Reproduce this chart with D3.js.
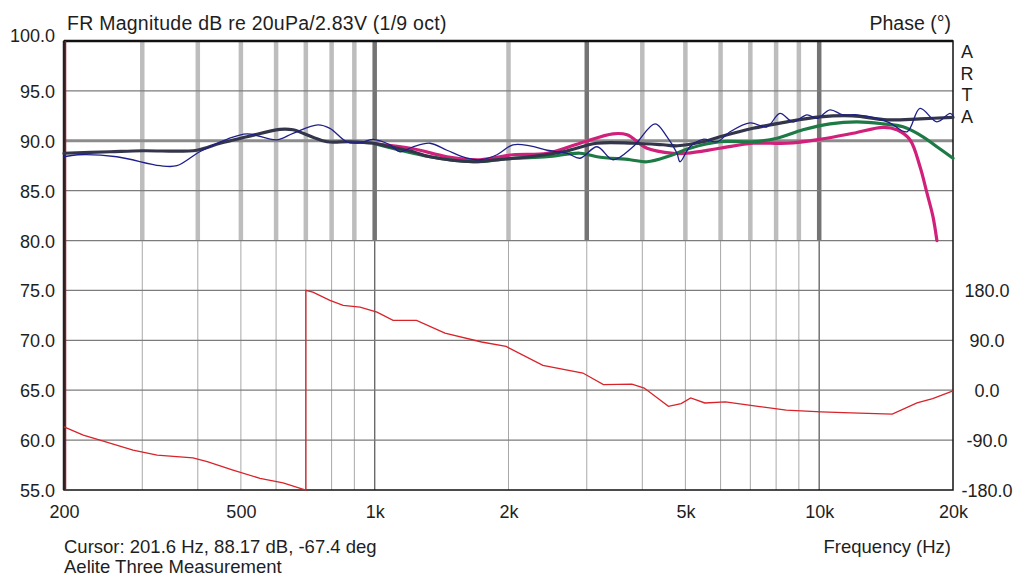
<!DOCTYPE html>
<html>
<head>
<meta charset="utf-8">
<script src="https://cdn.jsdelivr.net/npm/d3@7"></script>
<style>
  html, body { margin: 0; padding: 0; background: #fff; }
  #chart { width: 1014px; height: 578px; }
  text { font-family: "Liberation Sans", Arial, sans-serif; fill: #1e1e1e; }
</style>
</head>
<body>
<div id="chart"></div>
<script>
// ---- data ----
const dbTicks = [55, 60, 65, 70, 75, 80, 85, 90, 95, 100];
const phaseTicks = [-180, -90, 0, 90, 180];
const freqTicks = [200, 500, 1000, 2000, 5000, 10000, 20000];
const freqTickLabels = ["200", "500", "1k", "2k", "5k", "10k", "20k"];
const minorGrid = [300, 400, 500, 600, 700, 800, 900, 2000, 3000, 4000, 5000, 6000, 7000, 8000, 9000];
const majorGrid = [1000, 10000];
const darkBands = [1000, 3000, 10000];

// thick dark grey response
const darkFreq = [200, 254, 301, 398, 449, 516, 612, 655, 726, 781, 879, 991, 1082, 1220, 1332, 1664, 1884, 2235, 2653, 3164, 3812, 4454, 4800, 5478, 5982, 7096, 8461, 10042, 11914, 14212, 16860, 20000];
const darkDb = [88.75, 88.9, 89.0, 89.05, 89.75, 90.4, 91.15, 91.1, 90.35, 89.9, 89.9, 89.75, 89.4, 88.9, 88.4, 87.9, 88.1, 88.4, 88.9, 89.75, 89.75, 89.6, 89.5, 89.9, 90.4, 91.25, 91.9, 92.4, 92.5, 92.1, 92.2, 92.35];

// thin navy response
const blueFreq = [200, 215, 263, 329, 359, 404, 465, 516, 603, 655, 745, 793, 866, 926, 991, 1082, 1140, 1220, 1332, 1454, 1613, 1726, 1884, 2047, 2235, 2443, 2708, 2897, 3164, 3436, 3812, 4273, 4547, 4787, 4862, 5120, 5478, 5888, 6300, 6988, 7631, 8161, 8730, 9386, 9886, 10575, 11314, 12162, 13490, 14420, 15760, 16860, 18400, 19700, 20000];
const blueDb = [88.4, 88.6, 88.4, 87.5, 87.5, 88.9, 90.15, 90.7, 90.1, 90.75, 91.6, 91.25, 89.9, 89.8, 90.15, 89.6, 88.9, 89.4, 89.75, 89.05, 88.25, 88.1, 88.6, 89.6, 89.5, 89.05, 88.75, 88.25, 89.4, 88.1, 89.4, 91.7, 90.4, 88.75, 87.9, 89.4, 90.15, 89.9, 90.9, 91.8, 91.4, 92.75, 91.9, 92.6, 92.25, 93.1, 92.6, 92.6, 92.25, 91.8, 90.9, 93.25, 91.9, 92.75, 92.5];

// magenta response
const magentaFreq = [1000, 1220, 1454, 1726, 2047, 2443, 2897, 3436, 3696, 4100, 4689, 5041, 5982, 7096, 8461, 10042, 11914, 13920, 14960, 16000, 16860, 17480, 18030, 18400];
const magentaDb = [89.7, 89.2, 88.4, 88.1, 88.6, 88.75, 89.75, 90.7, 90.6, 89.25, 88.75, 88.75, 89.25, 89.75, 89.75, 90.15, 90.75, 91.35, 91.1, 90.1, 87.4, 84.75, 82.4, 80.0];

// green response
const greenFreq = [1000, 1332, 1664, 2047, 2443, 2897, 3164, 3754, 4100, 4617, 5120, 5982, 7096, 8036, 9194, 10575, 12162, 13920, 15440, 17120, 18400, 20000];
const greenDb = [89.7, 88.4, 87.9, 88.25, 88.4, 88.75, 88.4, 88.1, 87.9, 88.5, 89.25, 89.9, 89.9, 90.25, 91.1, 91.7, 91.9, 91.7, 91.4, 90.4, 89.4, 88.25];

// phase (deg), wraps at ~700 Hz
const phaseFreq = [200, 221, 241, 286, 324, 390, 420, 480, 552, 622, 700, 700, 726, 793, 849, 927, 1012, 1100, 1242, 1439, 1740, 1975, 2390, 2940, 3270, 3790, 4040, 4580, 4890, 5140, 5530, 6150, 7280, 8430, 10100, 11800, 14600, 16600, 18000, 20000];
const phaseDeg = [-66, -81, -90, -108, -117, -122, -129, -144, -159, -167, -180, 180, 177, 162, 153, 150, 141, 126, 126, 103, 87, 79, 45, 31, 10, 11, 4, -29, -24, -14, -23, -21, -29, -36, -39, -41, -43, -23, -15, -1];

const cursorFreq = 201.6;

class FrChart {
  constructor(config) {
    this.config = config;
    this.box = { left: 64, right: 953, top: 41, bottom: 490 };
    this.initVis();
  }

  initVis() {
    let vis = this;
    const b = vis.box;

    vis.svg = d3.select(`#${vis.config.parentElement}`)
      .append("svg")
      .attr("width", 1014)
      .attr("height", 578);

    vis.xScale = d3.scaleLog().domain([200, 20000]).range([b.left, b.right]);
    vis.yScale = d3.scaleLinear().domain([55, 100]).range([b.bottom, b.top]);
    // phase sits on the 55..75 dB band
    vis.pScale = d3.scaleLinear().domain([-180, 180]).range([vis.yScale(55), vis.yScale(75)]);

    vis.renderVis();
  }

  renderVis() {
    let vis = this;
    const b = vis.box;
    const x = vis.xScale, y = vis.yScale;
    const fmt = d => d.toFixed(1); // plain hyphen minus like the original

    // thin vertical grid (lower band)
    vis.svg.append("g")
      .selectAll("line")
      .data(minorGrid.concat(majorGrid))
      .join("line")
      .attr("x1", d => x(d)).attr("x2", d => x(d))
      .attr("y1", y(80)).attr("y2", b.bottom)
      .attr("stroke", d => majorGrid.includes(d) ? "#6a6a6a" : "#a8a8a8")
      .attr("stroke-width", d => majorGrid.includes(d) ? 1.4 : 1);

    // thick bands in the 80..100 dB band
    vis.svg.append("g")
      .selectAll("line")
      .data(minorGrid.concat(majorGrid))
      .join("line")
      .attr("x1", d => x(d)).attr("x2", d => x(d))
      .attr("y1", b.top).attr("y2", y(80))
      .attr("stroke", d => darkBands.includes(d) ? "#747474" : "#bdbdbd")
      .attr("stroke-width", 4.5);

    // horizontal grid
    vis.svg.append("g")
      .selectAll("line")
      .data(dbTicks.filter(d => d > 55 && d < 100))
      .join("line")
      .attr("x1", b.left).attr("x2", b.right)
      .attr("y1", d => y(d)).attr("y2", d => y(d))
      .attr("stroke", d => d === 90 ? "#8c8c8c" : "#7c7c7c")
      .attr("stroke-width", d => d === 90 ? 3 : 1.2);

    // frame
    vis.svg.append("rect")
      .attr("x", b.left).attr("y", b.top)
      .attr("width", b.right - b.left).attr("height", b.bottom - b.top)
      .attr("fill", "none")
      .attr("stroke", "#111")
      .attr("stroke-width", 1.5);
    vis.svg.append("line")
      .attr("x1", b.left).attr("x2", b.right)
      .attr("y1", b.top).attr("y2", b.top)
      .attr("stroke", "#111").attr("stroke-width", 2.5);
    vis.svg.append("line")
      .attr("x1", b.left).attr("x2", b.left)
      .attr("y1", b.top).attr("y2", b.bottom)
      .attr("stroke", "#222").attr("stroke-width", 2.5);

    // cursor
    vis.svg.append("line")
      .attr("x1", x(cursorFreq)).attr("x2", x(cursorFreq))
      .attr("y1", b.top).attr("y2", b.bottom)
      .attr("stroke", "#9a1020").attr("stroke-width", 1.4);

    // curves
    const line = (fs, vs, yS, curve) => d3.line()
      .x((d, i) => x(fs[i]))
      .y(d => yS(d))
      .curve(curve)(vs);

    const curves = [
      { f: magentaFreq, v: magentaDb, color: "#d0207a", w: 3.2 },
      { f: greenFreq, v: greenDb, color: "#1d7a45", w: 3.2 },
      { f: darkFreq, v: darkDb, color: "#33354a", w: 3.2 },
      { f: blueFreq, v: blueDb, color: "#1f1f8a", w: 1.3 },
    ];

    vis.svg.append("g")
      .selectAll("path")
      .data(curves)
      .join("path")
      .attr("d", c => line(c.f, c.v, y, d3.curveCatmullRom.alpha(0.5)))
      .attr("fill", "none")
      .attr("stroke", c => c.color)
      .attr("stroke-width", c => c.w)
      .attr("stroke-linejoin", "round")
      .attr("stroke-linecap", "round");

    vis.svg.append("path")
      .attr("d", line(phaseFreq, phaseDeg, vis.pScale, d3.curveLinear))
      .attr("fill", "none")
      .attr("stroke", "#d8232a")
      .attr("stroke-width", 1.3);

    // axes
    const yAxisG = vis.svg.append("g")
      .attr("transform", `translate(${b.left},0)`)
      .call(d3.axisLeft(y).tickValues(dbTicks).tickFormat(fmt).tickSize(0).tickPadding(9));
    yAxisG.select(".domain").remove();
    yAxisG.selectAll("text")
      .attr("dy", d => d === 100 ? "0.05em" : "0.36em");

    const pAxisG = vis.svg.append("g")
      .attr("transform", `translate(${b.right},0)`)
      .call(d3.axisRight(vis.pScale).tickValues(phaseTicks).tickFormat(fmt).tickSize(0));
    pAxisG.select(".domain").remove();
    pAxisG.selectAll("text")
      .attr("x", 34)
      .attr("dy", "0.36em")
      .attr("text-anchor", "middle");

    const xAxisG = vis.svg.append("g")
      .attr("transform", `translate(0,${b.bottom})`)
      .call(d3.axisBottom(x).tickValues(freqTicks).tickFormat((d, i) => freqTickLabels[i]).tickSize(0));
    xAxisG.select(".domain").remove();
    xAxisG.selectAll("text").attr("y", 28).attr("dy", null);

    vis.svg.selectAll(".tick text")
      .attr("font-size", 18)
      .attr("font-family", '"Liberation Sans", Arial, sans-serif')
      .attr("fill", "#1e1e1e");

    // titles
    const label = (tx, ty, s, size, anchor) => vis.svg.append("text")
      .attr("x", tx).attr("y", ty)
      .attr("font-size", size)
      .attr("text-anchor", anchor || "start")
      .text(s);

    label(67, 30, "FR Magnitude dB re 20uPa/2.83V (1/9 oct)", 19.5).attr("letter-spacing", 0.25);
    label(951, 30, "Phase (°)", 19.5, "end");
    label(64, 553, "Cursor: 201.6 Hz, 88.17 dB, -67.4 deg", 18.5);
    label(951, 553, "Frequency (Hz)", 18.5, "end");
    label(64, 573, "Aelite Three Measurement", 18.5);

    vis.svg.append("g")
      .selectAll("text")
      .data(["A", "R", "T", "A"])
      .join("text")
      .attr("x", 967)
      .attr("y", (d, i) => 58 + i * 21.7)
      .attr("font-size", 18)
      .attr("text-anchor", "middle")
      .text(d => d);
  }
}

new FrChart({ parentElement: "chart" });
</script>
</body>
</html>
